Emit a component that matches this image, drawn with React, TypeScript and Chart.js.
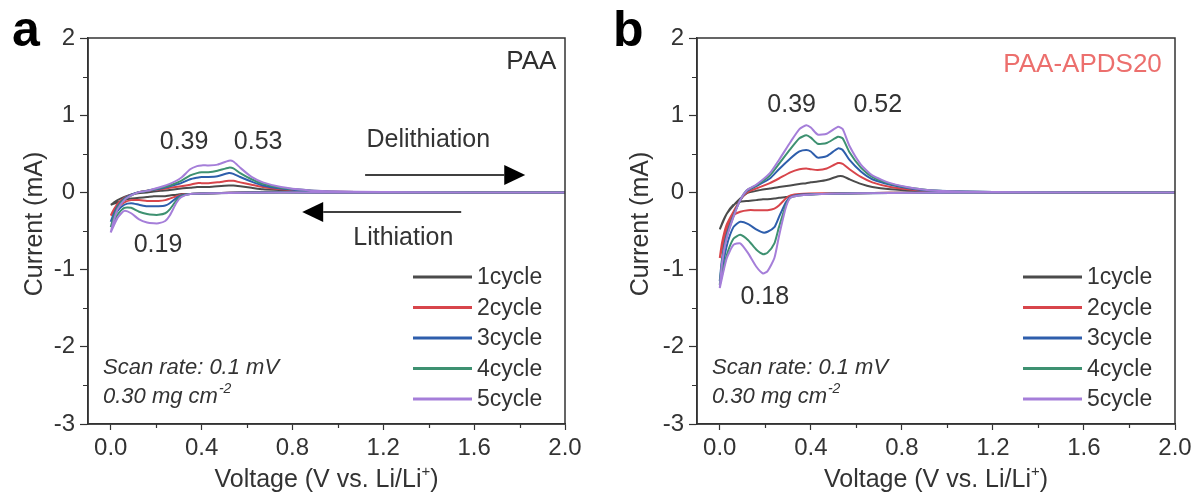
import React, { useEffect, useRef } from "react";
import { Chart, registerables } from "chart.js";

Chart.register(...registerables);

const FONT = '"Liberation Sans", Arial, Helvetica, sans-serif';
const TEXT = "#333333";
const AXIS = "#333333";

// ---------- data ----------
const CYCLE_LABELS = ["1cycle", "2cycle", "3cycle", "4cycle", "5cycle"];
const CYCLE_COLORS = ["#4b4b4b", "#d8454b", "#2e5eac", "#3e9171", "#a57ed9"];

// forward (delithiation) sweep voltages, 0 -> 2 V
const V_FWD = [0, 0.01, 0.03, 0.06, 0.09, 0.12, 0.16, 0.22, 0.26, 0.31, 0.35, 0.38, 0.4, 0.43, 0.47, 0.52, 0.54, 0.57, 0.62, 0.67, 0.75, 0.86, 0.96, 1.2, 1.6, 2.0];
// reverse (lithiation) sweep voltages, 2 -> 0 V
const V_REV = [2.0, 1.6, 1.2, 0.9, 0.6, 0.45, 0.35, 0.31, 0.29, 0.26, 0.24, 0.21, 0.19, 0.16, 0.125, 0.09, 0.06, 0.03, 0];

// PAA, current (mA) for cycles 1..5
const PAA_FWD = [
  [-0.16, -0.14, -0.1, -0.06, -0.03, -0.01, 0.0, 0.02, 0.03, 0.05, 0.06, 0.07, 0.07, 0.07, 0.08, 0.09, 0.09, 0.08, 0.06, 0.04, 0.03, 0.02, 0.01, 0, 0, 0],
  [-0.3, -0.24, -0.15, -0.07, -0.03, 0.0, 0.02, 0.04, 0.06, 0.08, 0.1, 0.12, 0.12, 0.12, 0.13, 0.15, 0.15, 0.13, 0.1, 0.07, 0.04, 0.02, 0.01, 0, 0, 0],
  [-0.38, -0.3, -0.18, -0.08, -0.03, 0.0, 0.02, 0.05, 0.08, 0.12, 0.17, 0.19, 0.2, 0.2, 0.21, 0.25, 0.24, 0.2, 0.14, 0.09, 0.05, 0.02, 0.01, 0, 0, 0],
  [-0.45, -0.35, -0.2, -0.09, -0.04, 0.0, 0.02, 0.06, 0.09, 0.15, 0.22, 0.25, 0.26, 0.26, 0.28, 0.32, 0.31, 0.25, 0.17, 0.11, 0.06, 0.03, 0.01, 0.005, 0, 0],
  [-0.52, -0.4, -0.22, -0.1, -0.04, 0.0, 0.02, 0.07, 0.11, 0.19, 0.3, 0.34, 0.35, 0.35, 0.36, 0.41, 0.4, 0.32, 0.2, 0.13, 0.07, 0.03, 0.015, 0.005, 0, 0],
];
const PAA_REV = [
  [0, 0, 0, 0, 0, -0.01, -0.02, -0.02, -0.03, -0.04, -0.05, -0.05, -0.05, -0.06, -0.07, -0.08, -0.1, -0.13, -0.16],
  [0, 0, 0, 0, 0, -0.01, -0.02, -0.03, -0.05, -0.08, -0.1, -0.11, -0.11, -0.11, -0.1, -0.1, -0.13, -0.2, -0.3],
  [0, 0, 0, 0, 0, -0.01, -0.02, -0.04, -0.07, -0.14, -0.17, -0.18, -0.18, -0.18, -0.16, -0.14, -0.16, -0.24, -0.38],
  [0, 0, 0, 0, -0.005, -0.01, -0.02, -0.05, -0.1, -0.22, -0.27, -0.29, -0.29, -0.28, -0.25, -0.2, -0.2, -0.29, -0.45],
  [0, 0, 0, 0, -0.005, -0.01, -0.02, -0.06, -0.13, -0.3, -0.37, -0.4, -0.4, -0.39, -0.35, -0.27, -0.24, -0.33, -0.52],
];

// PAA-APDS20, current (mA) for cycles 1..5
const APDS_FWD = [
  [-0.48, -0.4, -0.28, -0.17, -0.08, -0.01, 0.02, 0.05, 0.07, 0.09, 0.11, 0.12, 0.13, 0.14, 0.16, 0.21, 0.21, 0.17, 0.11, 0.07, 0.04, 0.02, 0.01, 0, 0, 0],
  [-0.85, -0.65, -0.42, -0.25, -0.1, 0.0, 0.05, 0.12, 0.18, 0.26, 0.3, 0.31, 0.3, 0.29, 0.31, 0.38, 0.37, 0.3, 0.2, 0.13, 0.07, 0.03, 0.01, 0.005, 0, 0],
  [-1.15, -0.86, -0.55, -0.3, -0.1, 0.02, 0.08, 0.18, 0.3, 0.44, 0.53, 0.55, 0.53, 0.45, 0.47, 0.57, 0.55, 0.42, 0.27, 0.17, 0.1, 0.04, 0.02, 0.005, 0, 0],
  [-1.2, -0.9, -0.58, -0.31, -0.1, 0.03, 0.09, 0.22, 0.37, 0.56, 0.7, 0.74, 0.71, 0.63, 0.64, 0.72, 0.7, 0.52, 0.32, 0.2, 0.11, 0.05, 0.02, 0.005, 0, 0],
  [-1.24, -0.92, -0.6, -0.32, -0.1, 0.03, 0.1, 0.25, 0.42, 0.65, 0.82, 0.87, 0.84, 0.75, 0.76, 0.85, 0.82, 0.6, 0.36, 0.22, 0.12, 0.05, 0.02, 0.005, 0, 0],
];
const APDS_REV = [
  [0, 0, 0, 0, -0.01, -0.02, -0.03, -0.05, -0.06, -0.07, -0.08, -0.09, -0.09, -0.1, -0.11, -0.12, -0.16, -0.28, -0.48],
  [0, 0, 0, 0, -0.01, -0.01, -0.02, -0.04, -0.08, -0.17, -0.21, -0.23, -0.23, -0.23, -0.23, -0.25, -0.3, -0.5, -0.85],
  [0, 0, 0, -0.005, -0.01, -0.02, -0.03, -0.06, -0.13, -0.32, -0.45, -0.51, -0.52, -0.48, -0.41, -0.38, -0.45, -0.7, -1.15],
  [0, 0, 0, -0.005, -0.01, -0.02, -0.04, -0.07, -0.17, -0.45, -0.66, -0.78, -0.8, -0.74, -0.62, -0.55, -0.6, -0.82, -1.2],
  [0, 0, 0, -0.005, -0.01, -0.02, -0.04, -0.07, -0.2, -0.57, -0.85, -1.02, -1.05, -0.96, -0.79, -0.66, -0.68, -0.86, -1.24],
];

// ---------- axes ----------
const X_MIN = -0.1;
const X_MAX = 2.0;
const Y_MIN = -3;
const Y_MAX = 2;
const X_MAJOR = [0, 0.4, 0.8, 1.2, 1.6, 2.0];
const X_MINOR = [0.2, 0.6, 1.0, 1.4, 1.8];
const Y_MAJOR = [-3, -2, -1, 0, 1, 2];
const Y_MINOR = [-2.5, -1.5, -0.5, 0.5, 1.5];

// ---------- annotations (data coordinates) ----------
const PAA_PEAKS = [
  { text: "0.39", x: 0.323, y: 0.653 },
  { text: "0.53", x: 0.649, y: 0.653 },
  { text: "0.19", x: 0.208, y: -0.679 },
];
const APDS_PEAKS = [
  { text: "0.39", x: 0.316, y: 1.13 },
  { text: "0.52", x: 0.694, y: 1.13 },
  { text: "0.18", x: 0.198, y: -1.36 },
];
const PAA_ARROWS = [
  { text: "Delithiation", tx: 1.398, ty: 0.679, x1: 1.12, x2: 1.825, y: 0.225 },
  { text: "Lithiation", tx: 1.288, ty: -0.592, x1: 1.543, x2: 0.843, y: -0.254 },
];

type Peak = { text: string; x: number; y: number };
type Arrow = { text: string; tx: number; ty: number; x1: number; x2: number; y: number };
type PanelCfg = {
  letter: string;
  letterX: number;
  name: string;
  nameColor: string;
  nameX: number;
  nameY: number;
  fwd: number[][];
  rev: number[][];
  peaks: Peak[];
  arrows: Arrow[];
  yAxisWidth: number;
  padRight: number;
  yTitleX: number;
};

const PANELS: PanelCfg[] = [
  {
    letter: "a", letterX: 12, name: "PAA", nameColor: "#2f2f2f", nameX: 1.962, nameY: 1.69,
    fwd: PAA_FWD, rev: PAA_REV, peaks: PAA_PEAKS, arrows: PAA_ARROWS,
    yAxisWidth: 88, padRight: 34, yTitleX: 35,
  },
  {
    letter: "b", letterX: 14, name: "PAA-APDS20", nameColor: "#ec6f6d", nameX: 1.942, nameY: 1.65,
    fwd: APDS_FWD, rev: APDS_REV, peaks: APDS_PEAKS, arrows: [],
    yAxisWidth: 98, padRight: 23, yTitleX: 42,
  },
];

const W = 599;
const H = 497;

function drawText(ctx: CanvasRenderingContext2D, s: string, x: number, y: number, font: string, color: string, align: CanvasTextAlign = "center", baseline: CanvasTextBaseline = "middle") {
  ctx.font = font;
  ctx.fillStyle = color;
  ctx.textAlign = align;
  ctx.textBaseline = baseline;
  ctx.fillText(s, x, y);
}

function makeOverlay(cfg: PanelCfg) {
  return {
    id: "overlay",
    afterDraw(chart: any) {
      const { ctx, chartArea: ca, scales } = chart;
      const xs = scales.x;
      const ys = scales.y;
      const px = (v: number) => xs.getPixelForValue(v);
      const py = (v: number) => ys.getPixelForValue(v);
      ctx.save();

      // frame
      ctx.strokeStyle = AXIS;
      ctx.lineWidth = 1.5;
      ctx.strokeRect(ca.left, ca.top, ca.right - ca.left, ca.bottom - ca.top);

      // minor ticks
      ctx.lineWidth = 1.2;
      ctx.beginPath();
      Y_MINOR.forEach((v) => {
        const y = Math.round(py(v)) + 0.5;
        ctx.moveTo(ca.left - 5, y);
        ctx.lineTo(ca.left, y);
      });
      X_MINOR.forEach((v) => {
        const x = Math.round(px(v)) + 0.5;
        ctx.moveTo(x, ca.bottom);
        ctx.lineTo(x, ca.bottom + 4);
      });
      ctx.stroke();

      // y title
      ctx.save();
      ctx.translate(cfg.yTitleX, 224);
      ctx.rotate(-Math.PI / 2);
      drawText(ctx, "Current (mA)", 0, 0, `25px ${FONT}`, TEXT);
      ctx.restore();

      // x title with superscript
      {
        const main = "Voltage (V vs. Li/Li";
        const sup = "+";
        const tail = ")";
        const f = `25px ${FONT}`;
        const fs = `15px ${FONT}`;
        ctx.font = f;
        const w1 = ctx.measureText(main).width;
        const w3 = ctx.measureText(tail).width;
        ctx.font = fs;
        const w2 = ctx.measureText(sup).width;
        const cx = (ca.left + ca.right) / 2;
        let x = cx - (w1 + w2 + w3) / 2;
        const base = 487;
        drawText(ctx, main, x, base, f, TEXT, "left", "alphabetic");
        x += w1;
        drawText(ctx, sup, x, base - 11, fs, TEXT, "left", "alphabetic");
        x += w2;
        drawText(ctx, tail, x, base, f, TEXT, "left", "alphabetic");
      }

      // panel letter
      drawText(ctx, cfg.letter, cfg.letterX, 46, `bold 50px ${FONT}`, "#000000", "left", "alphabetic");

      // sample name
      drawText(ctx, cfg.name, px(cfg.nameX), py(cfg.nameY), `26px ${FONT}`, cfg.nameColor, "right", "middle");

      // peak labels
      cfg.peaks.forEach((p) => drawText(ctx, p.text, px(p.x), py(p.y), `25px ${FONT}`, TEXT));

      // arrows
      cfg.arrows.forEach((a) => {
        drawText(ctx, a.text, px(a.tx), py(a.ty), `25px ${FONT}`, TEXT);
        const x1 = px(a.x1);
        const x2 = px(a.x2);
        const y = py(a.y);
        const dir = x2 > x1 ? 1 : -1;
        const head = 21;
        ctx.strokeStyle = "#000000";
        ctx.lineWidth = 1.5;
        ctx.beginPath();
        ctx.moveTo(x1, y);
        ctx.lineTo(x2 - dir * head, y);
        ctx.stroke();
        ctx.fillStyle = "#000000";
        ctx.beginPath();
        ctx.moveTo(x2, y);
        ctx.lineTo(x2 - dir * head, y - 10);
        ctx.lineTo(x2 - dir * head, y + 10);
        ctx.closePath();
        ctx.fill();
      });

      // scan rate note
      {
        const left = px(-0.034);
        drawText(ctx, "Scan rate: 0.1 mV", left, 374, `italic 22px ${FONT}`, TEXT, "left", "alphabetic");
        const s = "0.30 mg cm";
        ctx.font = `italic 22px ${FONT}`;
        const w = ctx.measureText(s).width;
        drawText(ctx, s, left, 403, `italic 22px ${FONT}`, TEXT, "left", "alphabetic");
        drawText(ctx, "-2", left + w + 1, 393, `italic 14px ${FONT}`, TEXT, "left", "alphabetic");
      }

      // legend
      CYCLE_LABELS.forEach((label, i) => {
        const y = ca.top + 239 + i * 30.5;
        ctx.strokeStyle = CYCLE_COLORS[i];
        ctx.lineWidth = 3;
        ctx.beginPath();
        ctx.moveTo(ca.right - 152, y);
        ctx.lineTo(ca.right - 93, y);
        ctx.stroke();
        drawText(ctx, label, ca.right - 88, y + 1, `23px ${FONT}`, TEXT, "left", "middle");
      });

      ctx.restore();
    },
  };
}

function Panel({ cfg, left }: { cfg: PanelCfg; left: number }) {
  const ref = useRef<HTMLCanvasElement>(null);
  useEffect(() => {
    const canvas = ref.current;
    if (!canvas) return;
    const datasets = CYCLE_LABELS.map((label, i) => ({
      label,
      data: [
        ...V_FWD.map((v, k) => ({ x: v, y: cfg.fwd[i][k] })),
        ...V_REV.map((v, k) => ({ x: v, y: cfg.rev[i][k] })),
      ],
      borderColor: CYCLE_COLORS[i],
      backgroundColor: CYCLE_COLORS[i],
      borderWidth: 2,
      pointRadius: 0,
      tension: 0.2,
      fill: false,
      order: 4 - i,
    }));
    const chart = new Chart(canvas, {
      type: "line",
      data: { datasets },
      options: {
        animation: false,
        responsive: false,
        devicePixelRatio: 1,
        layout: { padding: { left: 0, top: 38, right: cfg.padRight, bottom: 0 } },
        plugins: { legend: { display: false }, tooltip: { enabled: false } },
        scales: {
          x: {
            type: "linear",
            min: X_MIN,
            max: X_MAX,
            afterBuildTicks: (s: any) => {
              s.ticks = X_MAJOR.map((v) => ({ value: v }));
            },
            afterFit: (s: any) => {
              s.height = H - 424;
            },
            ticks: {
              callback: (v: any) => Number(v).toFixed(1),
              font: { family: FONT, size: 24 },
              color: TEXT,
              padding: 4,
              maxRotation: 0,
              autoSkip: false,
            },
            grid: { drawOnChartArea: false, drawTicks: true, tickLength: 6, tickColor: AXIS, tickWidth: 1.2 },
            border: { display: true, color: AXIS, width: 1.5 },
          },
          y: {
            type: "linear",
            min: Y_MIN,
            max: Y_MAX,
            afterBuildTicks: (s: any) => {
              s.ticks = Y_MAJOR.map((v) => ({ value: v }));
            },
            afterFit: (s: any) => {
              s.width = cfg.yAxisWidth;
            },
            ticks: {
              callback: (v: any) => String(v),
              font: { family: FONT, size: 24 },
              color: TEXT,
              padding: 5,
              autoSkip: false,
            },
            grid: { drawOnChartArea: false, drawTicks: true, tickLength: 8, tickColor: AXIS, tickWidth: 1.2 },
            border: { display: true, color: AXIS, width: 1.5 },
          },
        },
      },
      plugins: [makeOverlay(cfg)],
    } as any);
    return () => chart.destroy();
  }, [cfg]);
  return (
    <canvas
      ref={ref}
      width={W}
      height={H}
      style={{ position: "absolute", left, top: 0, width: W, height: H }}
    />
  );
}

export default function App() {
  return (
    <div style={{ position: "fixed", left: 0, top: 0, width: 1198, height: 497, background: "#ffffff", overflow: "hidden" }}>
      <Panel cfg={PANELS[0]} left={0} />
      <Panel cfg={PANELS[1]} left={599} />
    </div>
  );
}
